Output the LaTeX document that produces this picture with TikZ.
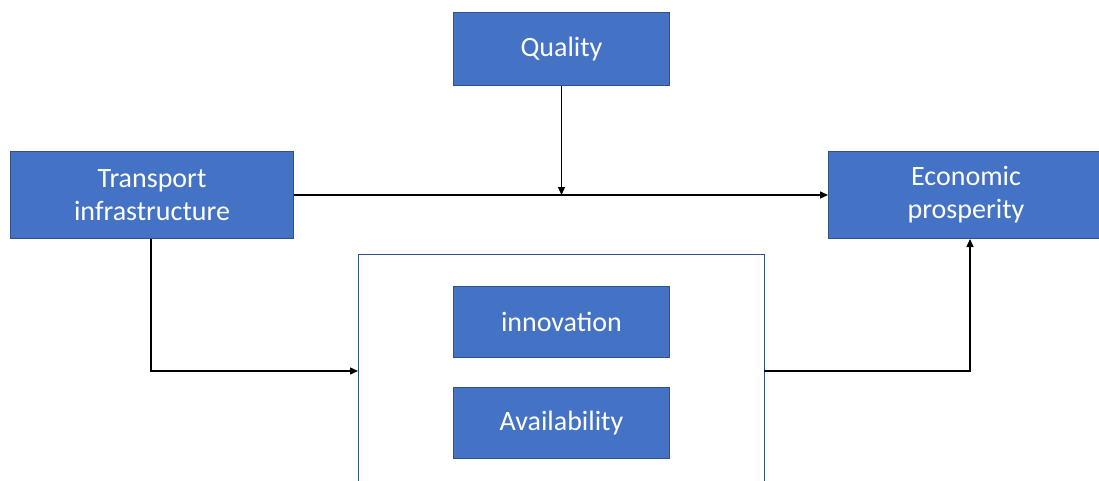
\documentclass[tikz,border=0pt]{standalone}
\usepackage{fontspec}
\setmainfont{Carlito}
\usetikzlibrary{arrows.meta}
\definecolor{boxblue}{HTML}{4472C4}
\definecolor{boxedge}{HTML}{2F528F}
\tikzset{
  bluebox/.style={draw=boxedge, line width=1pt, fill=boxblue, text=white,
    font=\fontsize{28}{33}\selectfont, align=center, inner sep=0pt, anchor=north west},
  link/.style={draw=black, line width=1.4pt, -{Triangle[length=8pt,width=7pt]}},
}
\begin{document}
\begin{tikzpicture}[x=1pt,y=-1pt]
  \useasboundingbox (0,0) rectangle (1099,481);
  % group frame, open below the picture edge
  \draw[boxedge, line width=1pt] (358,490) -- (358,254) -- (764,254) -- (764,490);
  \coordinate (frameL) at (358,371);
  \coordinate (frameR) at (764,371);

  \node[bluebox, minimum width=216pt, minimum height=73pt] (quality) at (453,12) {\raisebox{-2pt}{Quality}};
  \node[bluebox, minimum width=283pt, minimum height=87pt] (transport) at (10,151) {Transport\\infrastructure};
  \node[bluebox, minimum width=275pt, minimum height=87pt] (econ) at (828,151) {Economic\\prosperity};
  \node[bluebox, minimum width=216pt, minimum height=71pt] (innov) at (453,286) {\raisebox{-2pt}{innovation}};
  \node[bluebox, minimum width=216pt, minimum height=71pt] (avail) at (453,387) {\raisebox{-2pt}{Availability}};

  \coordinate (meet) at (quality.south |- transport.east);
  \draw[link] (transport.east) -- (econ.west);
  \draw[link] (quality.south) -- (meet);
  \draw[link] (transport.south -| 151,0) |- (frameL);
  \draw[link] (frameR) -| (econ.south -| 970,0);
\end{tikzpicture}
\end{document}
